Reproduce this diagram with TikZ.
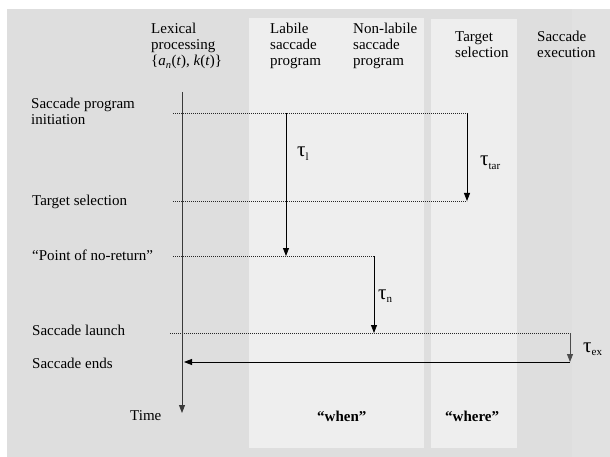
\documentclass[tikz,border=0pt]{standalone}
\usepackage{fontspec}
\setmainfont{Liberation Serif}
\usetikzlibrary{arrows.meta}
\definecolor{bgouter}{HTML}{DEDEDE}
\definecolor{bgstripe}{HTML}{E1E1E1}
\definecolor{bgpanel}{HTML}{EEEEEE}
\definecolor{axisgray}{HTML}{3A3A3A}
\newcommand{\tausym}[1]{{\fontsize{21}{21}\selectfont τ}\raisebox{-3.5pt}{\fontsize{11}{11}\selectfont #1}}
\begin{document}
\begin{tikzpicture}[x=1pt,y=-1pt,
  lbl/.style={font=\fontsize{15}{16}\selectfont, inner sep=0pt, anchor=base west, align=left},
  taulbl/.style={inner sep=0pt, anchor=base west},
  dotline/.style={line width=0.7pt, dash pattern=on 0.9pt off 1.1pt, black!85},
  arr/.style={line width=0.8pt, -{Triangle[length=8pt,width=6pt]}},
  axisarr/.style={line width=0.9pt, axisgray, -{Triangle[length=8pt,width=6pt]}}]
\useasboundingbox (0,0) rectangle (610,457);
\fill[white] (0,0) rectangle (610,457);
\fill[bgouter] (7,9) rectangle (610,457);
\fill[bgstripe] (572,9) rectangle (610,457);
\fill[bgpanel] (249,18) rectangle (424,448);
\fill[bgpanel] (431,19) rectangle (517,448);
% column headings (anchor = baseline of last line)
\node[lbl] (hlex) at (151,66) {Lexical\\processing\\\{\textit{a\textsubscript{n}}(\textit{t}), \textit{k}(\textit{t})\}};
\node[lbl] (hlab) at (270,66) {Labile\\saccade\\program};
\node[lbl] (hnon) at (353,66) {Non-labile\\saccade\\program};
\node[lbl] (htar) at (455,58) {Target\\selection};
\node[lbl] (hexe) at (537,58) {Saccade\\execution};
% row labels
\node[lbl] (rinit) at (31,125) {Saccade program\\initiation};
\node[lbl] (rtar) at (32,206) {Target selection};
\node[lbl] (rpnr) at (32,260) {“Point of no-return”};
\node[lbl] (rlaunch) at (32,335) {Saccade launch};
\node[lbl] (rends) at (32,368) {Saccade ends};
\node[lbl] (rtime) at (130,420) {Time};
\node[lbl, font=\fontsize{15}{16}\selectfont\bfseries] (when) at (317,421) {“when”};
\node[lbl, font=\fontsize{15}{16}\selectfont\bfseries] (where) at (445,421) {“where”};
% coordinates
\coordinate (axtop) at (182,92);
\coordinate (axbot) at (182,413);
\coordinate (d1L) at (173,113);
\coordinate (d1R) at (467,113);
\coordinate (d2L) at (173,201);
\coordinate (d2R) at (467,201);
\coordinate (d3L) at (173,256);
\coordinate (d3R) at (374,256);
\coordinate (d4L) at (170,333);
\coordinate (d4R) at (570,333);
\coordinate (lTop) at (286,113);
\coordinate (lBot) at (286,256);
\coordinate (nBot) at (374,333);
\coordinate (exBot) at (570,362);
\coordinate (endL) at (184,362);
% dotted lines
\draw[dotline] (d1L) -- (d1R);
\draw[dotline] (d2L) -- (d2R);
\draw[dotline] (d3L) -- (d3R);
\draw[dotline] (d4L) -- (d4R);
% arrows
\draw[axisarr] (axtop) -- (axbot);
\draw[arr] (lTop) -- (lBot);
\draw[arr] (d1R) -- (d2R);
\draw[arr] (d3R) -- (nBot);
\draw[arr, black!70] (d4R) -- (exBot);
\draw[arr] (exBot) -- (endL);
% tau labels
\node[taulbl] (taul) at (297,157) {\tausym{l}};
\node[taulbl] (tautar) at (480,166) {\tausym{tar}};
\node[taulbl] (taun) at (378,299) {\tausym{n}};
\node[taulbl] (tauex) at (583,352) {\tausym{ex}};
\end{tikzpicture}
\end{document}
